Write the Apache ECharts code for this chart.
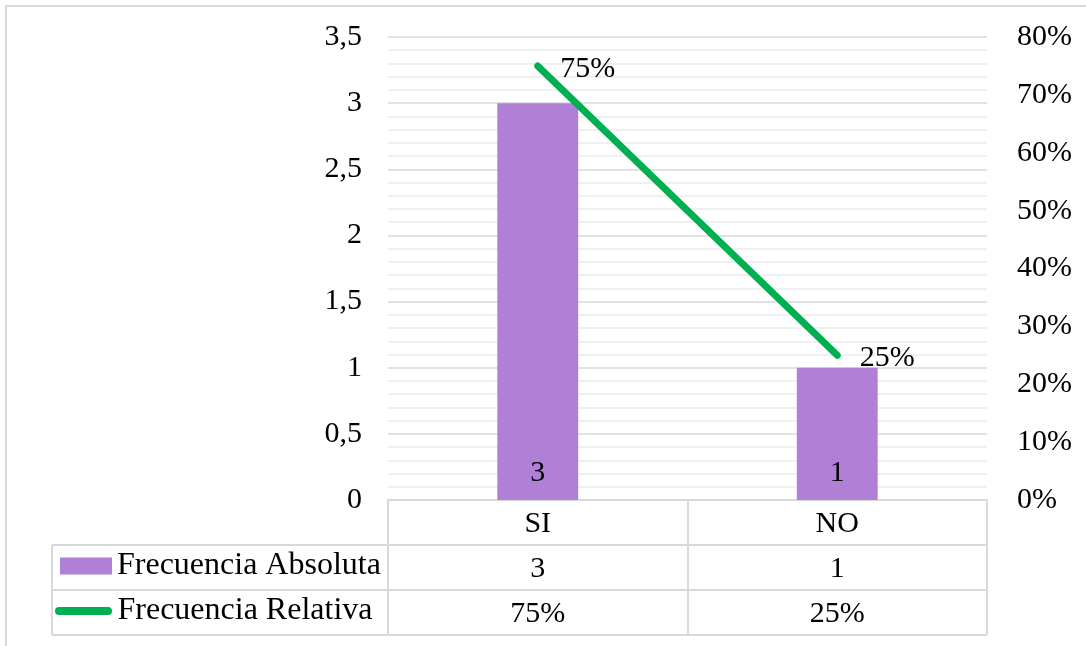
<!DOCTYPE html>
<html>
<head>
<meta charset="utf-8">
<script src="https://cdn.jsdelivr.net/npm/echarts@6/dist/echarts.min.js"></script>
<style>
  html, body { margin: 0; padding: 0; background: #ffffff; }
  #chart { width: 1086px; height: 646px; }
</style>
</head>
<body>
<div id="chart"></div>
<script>
// Chart data
const categories = ['SI', 'NO'];
const absoluteFreq = [3, 1];          // Frecuencia Absoluta
const relativeFreq = [75, 25];        // Frecuencia Relativa (%)
const leftTicks = [0, 0.5, 1, 1.5, 2, 2.5, 3, 3.5];
const rightTicks = [0, 10, 20, 30, 40, 50, 60, 70, 80];

const FONT = '"Liberation Serif", "Times New Roman", serif';
const PURPLE = '#B07FD6';
const GREEN = '#00B050';
const GRID_C = '#d9d9d9';

// plot area box
const G = { left: 388, right: 99, top: 37, bottom: 146 };
const plotRight = 1086 - G.right, plotBottom = 646 - G.bottom;
const rowH = 45;

const chart = echarts.init(document.getElementById('chart'), null, { renderer: 'canvas' });

const tableLines = [];
// horizontal rules of the data table (rows for both series)
for (let r = 1; r <= 3; r++) {
  tableLines.push({
    type: 'line',
    shape: { x1: 52, y1: plotBottom + r * rowH, x2: plotRight, y2: plotBottom + r * rowH },
    style: { stroke: GRID_C, lineWidth: 2 }, silent: true
  });
}
// left edge of the legend column
tableLines.push({
  type: 'line',
  shape: { x1: 52, y1: plotBottom + rowH, x2: 52, y2: plotBottom + 3 * rowH },
  style: { stroke: GRID_C, lineWidth: 2 }, silent: true
});
// outer frame
tableLines.push({
  type: 'rect',
  shape: { x: 6, y: 6, width: 1200, height: 800 },
  style: { fill: 'none', stroke: GRID_C, lineWidth: 2 }, silent: true
});

const option = {
  backgroundColor: '#ffffff',
  animation: false,
  textStyle: { fontFamily: FONT },
  grid: G,
  legend: [
    {
      data: [{ name: 'Frecuencia Absoluta', icon: 'rect' }],
      left: 60, top: plotBottom + rowH + 5,
      padding: 0,
      itemWidth: 52, itemHeight: 17, itemGap: 0,
      textStyle: { fontFamily: FONT, fontSize: 32, color: '#000' },
      selectedMode: false
    },
    {
      data: [{ name: 'Frecuencia Relativa', icon: 'path://M4,0 H53 A4,4 0 0 1 53,8 H4 A4,4 0 0 1 4,0 Z' }],
      left: 55, top: plotBottom + 2 * rowH + 5,
      padding: 0,
      itemWidth: 58, itemHeight: 8, itemGap: 0,
      textStyle: { fontFamily: FONT, fontSize: 32, color: '#000' },
      selectedMode: false
    }
  ],
  xAxis: {
    type: 'category',
    data: categories,
    boundaryGap: true,
    axisLine: { show: true, lineStyle: { color: GRID_C, width: 2 } },
    axisTick: { show: true, length: 3 * rowH, lineStyle: { color: GRID_C, width: 2 } },
    axisLabel: {
      margin: 2,
      fontFamily: FONT, fontSize: 30, color: '#000', lineHeight: rowH,
      formatter: (v, i) => v + '\n' + absoluteFreq[i] + '\n' + relativeFreq[i] + '%'
    }
  },
  yAxis: [
    {
      type: 'value',
      min: leftTicks[0], max: leftTicks[leftTicks.length - 1], interval: 0.5,
      axisLine: { show: false }, axisTick: { show: false },
      axisLabel: {
        margin: 26, fontFamily: FONT, fontSize: 30, color: '#000',
        formatter: v => String(v).replace('.', ',')
      },
      splitLine: { show: true, lineStyle: { color: GRID_C, width: 1.5 } },
      minorTick: { show: false, splitNumber: 5 },
      minorSplitLine: { show: true, lineStyle: { color: '#ececec', width: 1.5 } }
    },
    {
      type: 'value',
      min: rightTicks[0], max: rightTicks[rightTicks.length - 1], interval: 10,
      axisLine: { show: false }, axisTick: { show: false },
      axisLabel: {
        margin: 30, fontFamily: FONT, fontSize: 30, color: '#000',
        formatter: v => v + '%'
      },
      splitLine: { show: false }
    }
  ],
  series: [
    {
      name: 'Frecuencia Absoluta',
      type: 'bar',
      data: absoluteFreq,
      yAxisIndex: 0,
      barWidth: '27%',
      itemStyle: { color: PURPLE },
      label: {
        show: true, position: 'insideBottom', distance: 12,
        fontFamily: FONT, fontSize: 30, color: '#000'
      }
    },
    {
      name: 'Frecuencia Relativa',
      type: 'line',
      data: relativeFreq,
      yAxisIndex: 1,
      symbol: 'circle',
      symbolSize: 1,
      showSymbol: true,
      lineStyle: { color: GREEN, width: 7, cap: 'round' },
      itemStyle: { color: GREEN },
      label: {
        show: true, position: 'right', distance: 22, offset: [0, 3],
        fontFamily: FONT, fontSize: 30, color: '#000',
        formatter: p => p.value + '%'
      }
    }
  ],
  graphic: tableLines
};

chart.setOption(option);
</script>
</body>
</html>
